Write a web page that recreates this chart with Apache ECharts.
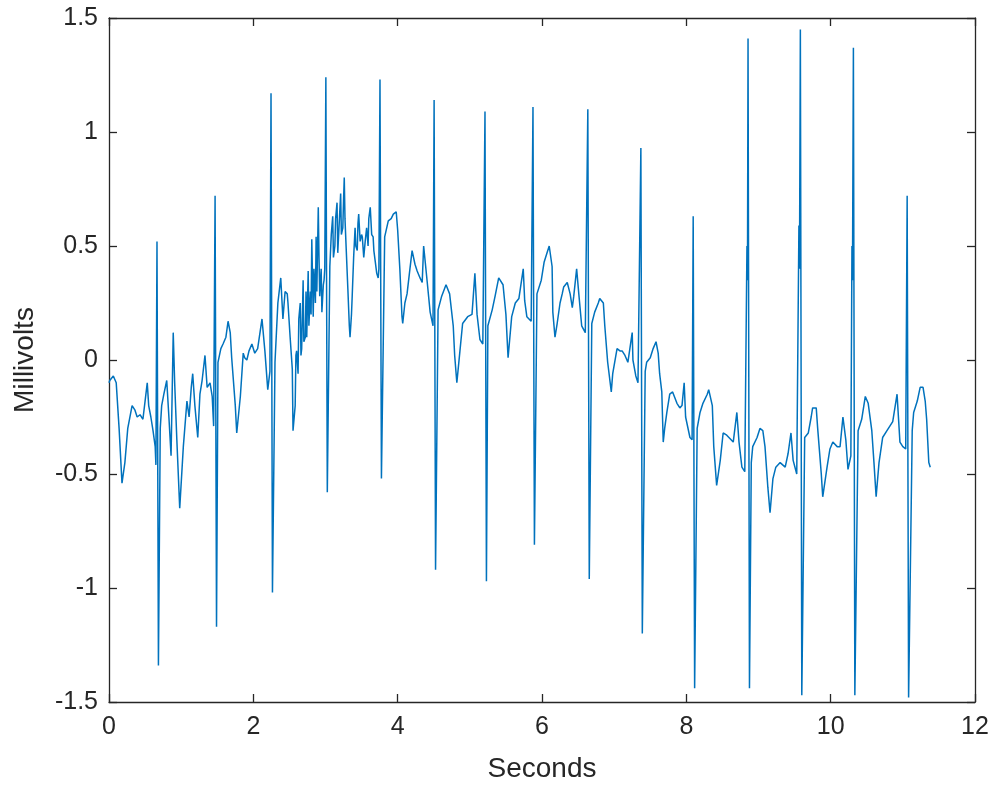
<!DOCTYPE html>
<html>
<head>
<meta charset="utf-8">
<script src="https://cdn.jsdelivr.net/npm/echarts@6/dist/echarts.min.js"></script>
<style>
html,body{margin:0;padding:0;background:#fff;}
#chart{width:994px;height:785px;}
</style>
</head>
<body>
<div id="chart"></div>
<script>
// Time (seconds) of each sample
var seconds = [
0.00,0.01,0.06,0.10,0.14,0.18,0.22,0.26,0.32,0.36,0.39,0.43,0.47,0.50,0.53,0.55,0.58,0.61,0.64,0.65,0.665,0.685,
0.71,0.73,0.76,0.80,0.83,0.86,0.89,0.91,0.94,0.98,1.03,1.05,1.08,1.11,1.14,1.16,1.19,1.23,1.26,1.29,1.33,1.36,1.40,1.43,1.45,1.47,1.49,
1.51,1.55,1.58,1.62,1.65,1.68,1.70,1.75,1.77,1.82,1.86,1.88,1.91,1.94,1.98,2.02,2.06,2.12,2.16,2.20,2.23,2.245,2.265,
2.30,2.34,2.38,2.41,2.44,2.47,2.48,2.51,2.54,2.55,
2.58,2.59,2.60,2.62,2.63,2.65,2.66,2.67,2.69,2.70,2.72,2.73,2.74,2.76,2.77,2.79,2.80,2.81,2.83,2.84,2.86,2.87,2.88,2.90,2.91,2.92,2.94,2.95,2.97,2.98,2.99,3.005,3.025,
3.06,3.08,3.10,3.11,3.13,3.14,3.16,3.17,3.19,3.21,3.22,3.24,3.25,3.26,3.27,3.28,3.31,3.33,3.34,3.36,3.37,3.39,3.41,3.42,3.44,3.45,3.46,3.48,3.50,3.51,3.53,3.55,3.57,3.59,3.60,3.62,3.64,3.66,3.67,3.69,3.71,3.73,3.74,3.755,3.775,
3.82,3.87,3.91,3.94,3.98,4.00,4.03,4.06,4.07,4.10,4.13,4.17,4.20,4.24,4.27,4.31,4.34,4.36,4.41,4.45,4.49,4.505,4.525,
4.56,4.61,4.67,4.72,4.77,4.79,4.82,4.86,4.90,4.97,5.03,5.07,5.10,5.14,5.18,5.21,5.23,
5.25,5.31,5.35,5.40,5.46,5.50,5.53,5.58,5.63,5.68,5.74,5.76,5.79,5.85,5.875,5.895,
5.93,5.99,6.03,6.07,6.10,6.14,6.15,6.18,6.21,6.25,6.28,6.30,6.35,6.39,6.42,6.44,6.48,6.51,6.55,6.60,6.635,6.655,
6.69,6.73,6.78,6.80,6.85,6.87,6.91,6.96,6.98,7.04,7.08,7.11,7.15,7.19,7.25,7.26,7.30,7.33,7.37,7.39,
7.43,7.45,7.50,7.54,7.58,7.61,7.63,7.66,7.68,7.70,7.73,7.77,7.81,7.87,7.91,7.94,7.97,7.99,8.05,8.08,8.095,8.115,
8.15,8.19,8.23,8.29,8.31,8.36,8.38,8.42,8.47,8.51,8.56,8.62,8.65,8.70,8.73,8.77,8.81,8.84,8.847,8.855,8.875,
8.90,8.92,8.98,9.02,9.06,9.09,9.13,9.16,9.20,9.24,9.30,9.37,9.41,9.45,9.48,9.53,9.56,9.568,9.58,9.60,
9.64,9.69,9.73,9.75,9.80,9.82,9.87,9.89,9.95,9.99,10.03,10.09,10.13,10.17,10.21,10.24,10.28,10.295,10.302,10.315,10.335,
10.38,10.43,10.48,10.52,10.57,10.60,10.63,10.67,10.72,10.78,10.82,10.86,10.92,10.96,11.00,11.04,11.06,11.08,
11.13,11.15,11.20,11.24,11.28,11.31,11.33,11.36,11.38
];
// Voltage (millivolts) of each sample
var millivolts = [
-0.10,-0.09,-0.07,-0.10,-0.30,-0.54,-0.45,-0.30,-0.20,-0.22,-0.25,-0.24,-0.26,-0.18,-0.10,-0.20,-0.25,-0.31,-0.38,-0.46,0.52,-1.34,
-0.30,-0.20,-0.15,-0.09,-0.25,-0.42,0.12,-0.10,-0.35,-0.65,-0.38,-0.30,-0.18,-0.25,-0.12,-0.06,-0.20,-0.34,-0.15,-0.09,0.02,-0.12,-0.10,-0.16,-0.29,0.72,-1.17,
-0.01,0.05,0.07,0.10,0.17,0.12,0.01,-0.20,-0.32,-0.16,0.03,0.01,0.00,0.04,0.07,0.03,0.05,0.18,0.04,-0.13,-0.05,1.17,-1.02,
-0.01,0.25,0.36,0.18,0.30,0.29,0.25,0.10,-0.04,-0.31,
-0.20,0.02,0.04,-0.06,0.18,0.25,0.02,0.05,0.35,0.08,0.10,0.30,0.10,0.39,0.15,0.30,0.20,0.53,0.19,0.40,0.25,0.54,0.30,0.67,0.45,0.28,0.40,0.21,0.33,0.35,0.40,1.24,-0.58,
0.41,0.55,0.63,0.45,0.50,0.62,0.69,0.47,0.60,0.73,0.55,0.58,0.70,0.80,0.62,0.54,0.31,0.15,0.10,0.20,0.28,0.45,0.58,0.50,0.48,0.60,0.64,0.52,0.55,0.54,0.45,0.52,0.58,0.50,0.62,0.67,0.55,0.54,0.48,0.43,0.38,0.36,0.40,1.23,-0.52,
0.54,0.61,0.62,0.64,0.65,0.57,0.40,0.19,0.16,0.25,0.29,0.40,0.48,0.42,0.39,0.36,0.34,0.50,0.34,0.21,0.15,1.14,-0.92,
0.22,0.28,0.33,0.29,0.15,0.02,-0.10,0.03,0.16,0.19,0.20,0.38,0.20,0.09,0.07,1.09,-0.97,
0.15,0.22,0.28,0.36,0.33,0.20,0.01,0.19,0.25,0.27,0.40,0.26,0.19,0.17,1.11,-0.81,
0.29,0.35,0.43,0.47,0.50,0.41,0.21,0.10,0.16,0.25,0.29,0.32,0.34,0.29,0.23,0.28,0.40,0.29,0.15,0.12,1.10,-0.96,
0.16,0.21,0.25,0.27,0.25,0.15,-0.01,-0.14,-0.06,0.05,0.04,0.04,0.02,-0.01,0.12,0.00,-0.07,-0.10,0.93,-1.20,
-0.05,-0.01,0.01,0.05,0.08,0.03,-0.06,-0.14,-0.36,-0.30,-0.23,-0.15,-0.14,-0.19,-0.21,-0.20,-0.10,-0.25,-0.34,-0.35,0.63,-1.44,
-0.30,-0.23,-0.19,-0.15,-0.13,-0.20,-0.38,-0.55,-0.44,-0.32,-0.33,-0.35,-0.36,-0.23,-0.36,-0.47,-0.49,0.50,0.35,1.41,-1.44,
-0.45,-0.38,-0.34,-0.30,-0.31,-0.38,-0.56,-0.67,-0.52,-0.47,-0.45,-0.47,-0.41,-0.32,-0.44,-0.50,0.59,0.40,1.45,-1.47,
-0.34,-0.32,-0.25,-0.21,-0.21,-0.30,-0.50,-0.60,-0.47,-0.39,-0.36,-0.38,-0.38,-0.25,-0.35,-0.48,-0.42,0.50,0.35,1.37,-1.47,
-0.31,-0.26,-0.16,-0.19,-0.31,-0.45,-0.60,-0.45,-0.34,-0.31,-0.29,-0.27,-0.15,-0.36,-0.38,-0.39,0.72,-1.48,
-0.31,-0.23,-0.18,-0.12,-0.12,-0.18,-0.26,-0.45,-0.47
];
var xTicks = [0, 2, 4, 6, 8, 10, 12];
var yTicks = [-1.5, -1, -0.5, 0, 0.5, 1, 1.5];

var points = seconds.map(function (t, i) { return [t, millivolts[i]]; });

var axisColor = '#262626';
var fontFamily = '"Liberation Sans", Arial, Helvetica, sans-serif';
var chart = echarts.init(document.getElementById('chart'), null, {renderer: 'canvas'});

function xAx(pos, showLabel) {
  return {
    type: 'value', position: pos,
    min: xTicks[0], max: xTicks[xTicks.length - 1], interval: xTicks[1] - xTicks[0],
    name: showLabel ? 'Seconds' : '', nameLocation: 'middle', nameGap: 53,
    nameTextStyle: {color: axisColor, fontSize: 28, fontFamily: fontFamily},
    axisLine: {show: true, onZero: false, lineStyle: {color: axisColor, width: 1.3}},
    axisTick: {show: true, inside: true, length: 8, lineStyle: {color: axisColor, width: 1.3}},
    axisLabel: {show: showLabel, color: axisColor, fontSize: 25, fontFamily: fontFamily, margin: 13},
    splitLine: {show: false}
  };
}
function yAx(pos, showLabel) {
  return {
    type: 'value', position: pos,
    min: yTicks[0], max: yTicks[yTicks.length - 1], interval: yTicks[1] - yTicks[0],
    name: showLabel ? 'Millivolts' : '', nameLocation: 'middle', nameGap: 70, nameRotate: 90,
    nameTextStyle: {color: axisColor, fontSize: 28, fontFamily: fontFamily},
    axisLine: {show: true, onZero: false, lineStyle: {color: axisColor, width: 1.3}},
    axisTick: {show: true, inside: true, length: 8, lineStyle: {color: axisColor, width: 1.3}},
    axisLabel: {show: showLabel, color: axisColor, fontSize: 25, fontFamily: fontFamily, margin: 11},
    splitLine: {show: false}
  };
}

chart.setOption({
  animation: false,
  backgroundColor: '#ffffff',
  grid: {left: 109, right: 19, top: 18, bottom: 83, containLabel: false, outerBoundsMode: 'none'},
  xAxis: [xAx('bottom', true), xAx('top', false)],
  yAxis: [yAx('left', true), yAx('right', false)],
  series: [{
    type: 'line',
    data: points,
    xAxisIndex: 0, yAxisIndex: 0,
    showSymbol: false,
    smooth: false,
    lineStyle: {color: '#0072BD', width: 1.5},
    itemStyle: {color: '#0072BD'}
  }]
});
</script>
</body>
</html>
